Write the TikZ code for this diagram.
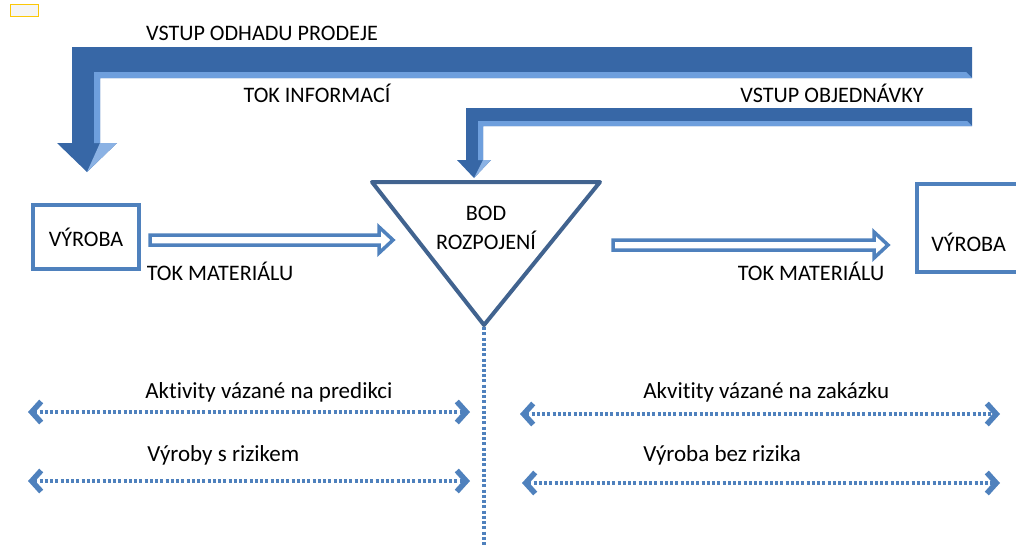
\documentclass[tikz,border=0pt]{standalone}
\usepackage{fontspec}
\setmainfont{Carlito}[Ligatures=CommonOff]
\usepackage{xcolor}
\usetikzlibrary{arrows.meta,positioning,calc}
\definecolor{flowblue}{HTML}{4F81BD}
\definecolor{infoblue}{HTML}{3767A6}
\definecolor{infolight}{HTML}{6E9FDD}
\definecolor{splitblue}{HTML}{41638F}

\begin{document}
\begin{tikzpicture}[x=0.02cm, y=-0.02cm, font=\fontsize{12.6}{14}\selectfont,
    box/.style={draw=flowblue, line width=0.08cm},
    matflow/.style={draw=flowblue, fill=white, line width=0.07cm, line join=miter},
    riskline/.style={draw=flowblue, line width=0.08cm, dash pattern=on 0.06cm off 0.045cm,
        {Straight Barb[length=0.19cm, width=0.42cm, line width=0.11cm]}-{Straight Barb[length=0.19cm, width=0.42cm, line width=0.11cm]}},
    label/.style={inner sep=0pt},
    small/.style={font=\fontsize{13.1}{16}\selectfont}]
    \useasboundingbox (0,0) rectangle (1016,545);

    % Paste marker
    \draw [draw=yellow!60!orange, fill=gray!8, line width=0.02cm] (10,4) rectangle (38,16);

    % Information flow
    \fill [infoblue] (972,47) -- (72,47) -- (72,143) -- (57,143) -- (87,172) -- (117,143) -- (100,143) -- (100,78) -- (972,78) -- cycle;
    \fill [infolight] (100,78) -- (972,78) -- (966,72) -- (94,72) -- (94,143) -- (100,143) -- cycle;
    \fill [infolight!80!white] (87,172) -- (117,143) -- (100,143) -- cycle;
    \fill [infoblue] (972,108) -- (466,108) -- (466,160) -- (457,160) -- (474,178) -- (491,160) -- (483,160) -- (483,126) -- (972,126) -- cycle;
    \fill [infolight] (483,126) -- (972,126) -- (967,121) -- (478,121) -- (478,160) -- (483,160) -- cycle;
    \fill [infolight!80!white] (474,178) -- (491,160) -- (483,160) -- cycle;

    \node [label] (prodej) at (262,33) {VSTUP ODHADU PRODEJE};
    \node [label] (informace) at (317,93) {TOK INFORMACÍ};
    \node [label] (objednavka) at (832,93) {VSTUP OBJEDNÁVKY};

    % Material flow
    \node [box, minimum width=2.12cm, minimum height=1.28cm] (vyrobaL) at (86,237) {VÝROBA};
    \node [box, anchor=north west, minimum width=2.4cm, minimum height=1.76cm] (vyrobaR) at (915,182) {};
    \node [label, anchor=west] (vyrobaRtext) at (931,242) {VÝROBA};
    \draw [splitblue, line width=0.08cm, line join=round] (372,182) -- (600,182) -- (484,325) -- cycle;
    \node [align=center, label, font=\fontsize{12.6}{16.4}\selectfont] (bod) at (486,228) {BOD\\ROZPOJENÍ};

    \coordinate (m1a) at (150,240);
    \coordinate (m1b) at (393,240);
    \coordinate (m2a) at (613,245);
    \coordinate (m2b) at (888,245);
    \draw [matflow] ($(m1a)+(0,-5)$) -- ($(m1b)+(-14,-5)$) -- ($(m1b)+(-14,-13)$) -- (m1b)
        -- ($(m1b)+(-14,13)$) -- ($(m1b)+(-14,5)$) -- ($(m1a)+(0,5)$) -- cycle;
    \draw [matflow] ($(m2a)+(0,-5)$) -- ($(m2b)+(-14,-5)$) -- ($(m2b)+(-14,-13)$) -- (m2b)
        -- ($(m2b)+(-14,13)$) -- ($(m2b)+(-14,5)$) -- ($(m2a)+(0,5)$) -- cycle;
    \node [label] (materialL) at (220,271) {TOK MATERIÁLU};
    \node [label] (materialR) at (811,271) {TOK MATERIÁLU};

    % Decoupling line
    \coordinate (apex) at (484,327);
    \coordinate (foot) at (484,545);
    \draw [draw=flowblue, line width=0.085cm, dash pattern=on 0.06cm off 0.045cm] (apex) -- (foot);

    % Forecast / order side
    \coordinate (p1a) at (28,412);
    \coordinate (p1b) at (470,412);
    \coordinate (p2a) at (28,481);
    \coordinate (p2b) at (470,481);
    \coordinate (z1a) at (520,414);
    \coordinate (z1b) at (1000,414);
    \coordinate (z2a) at (522,483);
    \coordinate (z2b) at (1000,483);
    \draw [riskline] (p1a) -- (p1b);
    \draw [riskline] (p2a) -- (p2b);
    \draw [riskline] (z1a) -- (z1b);
    \draw [riskline] (z2a) -- (z2b);
    \node [label, small, anchor=west] (predikce) at (145,392) {Aktivity vázané na predikci};
    \node [label, small, anchor=west] (riziko) at (147,455) {Výroby s rizikem};
    \node [label, small, anchor=west] (zakazka) at (643,392) {Akvitity vázané na zakázku};
    \node [label, small, anchor=west] (bezriziko) at (643,455) {Výroba bez rizika};
\end{tikzpicture}
\end{document}
